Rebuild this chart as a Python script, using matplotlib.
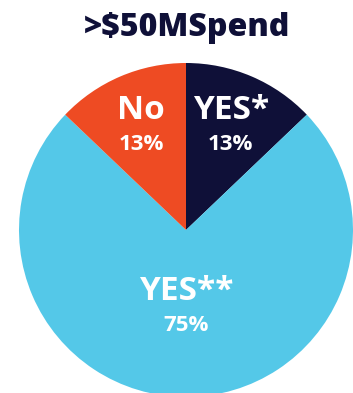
import matplotlib
matplotlib.use("Agg")
import matplotlib.pyplot as plt
import numpy as np

labels = ["YES*", "YES**", "No"]
values = [13, 75, 13]
colors = ["#0f1038", "#54c8e8", "#ee4b23"]
title = ">$50MSpend"

plt.rcParams['font.family'] = ['Open Sans', 'DejaVu Sans']

fig = plt.figure(figsize=(3.53, 3.93), dpi=100)
ax = fig.add_axes([0, 0, 1, 1])

cx, cy, r = 186, 163, 167
wedges, _ = ax.pie(values, colors=colors, startangle=90, counterclock=False,
                   center=(cx, cy), radius=r, frame=True)
ax.set_xlim(0, 353)
ax.set_ylim(0, 393)
ax.set_aspect('equal')
ax.axis('off')

# labels sit at a fraction of the radius along each wedge's middle angle
total = sum(values)
start = 90.0
spots = {"YES*": 0.68, "YES**": 0.46, "No": 0.68}
for lab, v in zip(labels, values):
    mid = start - 360.0 * v / total / 2
    start -= 360.0 * v / total
    d = spots[lab] * r
    x = cx + d * np.cos(np.radians(mid))
    y = cy + d * np.sin(np.radians(mid))
    ax.text(x, y + 7, lab, ha='center', va='baseline', color='white',
            fontsize=24, fontweight='bold')
    ax.text(x, y - 8, "%d%%" % v, ha='center', va='top', color='white',
            fontsize=16, fontweight='bold')

fig.text(0.53, 0.93, title, ha='center', va='center', color='#0f1038',
         fontsize=23, fontweight='heavy')

fig.savefig("out.png", dpi=100)
